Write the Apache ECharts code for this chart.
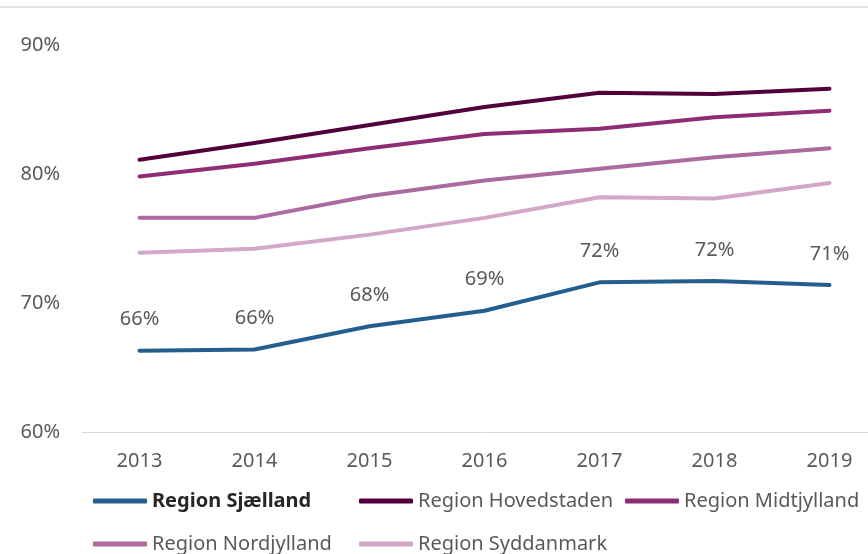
<!DOCTYPE html>
<html>
<head>
<meta charset="utf-8">
<script src="https://cdn.jsdelivr.net/npm/echarts@6/dist/echarts.min.js"></script>
<style>
  html, body { margin: 0; padding: 0; background: #fff; overflow: hidden; }
  #chart { width: 887px; height: 554px; }
</style>
</head>
<body>
<div id="chart"></div>
<script>
const years = ["2013", "2014", "2015", "2016", "2017", "2018", "2019"];
const yTicks = [60, 70, 80, 90];

const sjaelland = [66.3, 66.4, 68.2, 69.4, 71.6, 71.7, 71.4];
const hovedstaden = [81.1, 82.4, 83.8, 85.2, 86.3, 86.2, 86.6];
const midtjylland = [79.8, 80.8, 82.0, 83.1, 83.5, 84.4, 84.9];
const nordjylland = [76.6, 76.6, 78.3, 79.5, 80.4, 81.3, 82.0];
const syddanmark = [73.9, 74.2, 75.3, 76.6, 78.2, 78.1, 79.3];

const FONT = "Noto Sans";
const GREY = "#595959";

function lineSeries(name, data, color, z) {
  return {
    name: name,
    type: "line",
    data: data,
    symbol: "circle",
    symbolSize: 0,
    showSymbol: true,
    z: z,
    lineStyle: { color: color, width: 4, cap: "round", join: "round" },
    itemStyle: { color: color }
  };
}

const chart = echarts.init(document.getElementById("chart"));

// only Sjælland gets value labels
const sjSeries = lineSeries("Region Sjælland", sjaelland, "#245e8f", 5);
sjSeries.label = {
  show: true,
  position: "top",
  distance: 21,
  fontFamily: FONT,
  fontSize: 20,
  color: GREY,
  formatter: (p) => Math.round(p.value) + "%"
};

chart.setOption({
  animation: false,
  textStyle: { fontFamily: FONT },
  grid: { left: 82, right: 0, top: 45, bottom: 122 },
  xAxis: {
    type: "category",
    data: years,
    boundaryGap: true,
    axisLine: { lineStyle: { color: "#d9d9d9", width: 1 } },
    axisTick: { show: false },
    axisLabel: { fontFamily: FONT, fontSize: 20, color: GREY, margin: 19 }
  },
  yAxis: {
    type: "value",
    min: yTicks[0],
    max: yTicks[yTicks.length - 1],
    interval: 10,
    splitLine: { show: false },
    axisLine: { show: false },
    axisTick: { show: false },
    axisLabel: { fontFamily: FONT, fontSize: 20, color: GREY, margin: 22, formatter: "{value}%" }
  },
  legend: {
    left: 93,
    top: 483,
    width: 800,
    padding: 0,
    icon: "roundRect",
    itemWidth: 54,
    itemHeight: 5,
    itemGap: 7,
    data: ["Region Sjælland", "Region Hovedstaden", "Region Midtjylland", "Region Nordjylland", "Region Syddanmark"],
    formatter: (name) => name === "Region Sjælland" ? "{b|" + name + "}" : name,
    textStyle: {
      fontFamily: FONT,
      fontSize: 20,
      color: GREY,
      width: 200,
      lineHeight: 36,
      rich: {
        b: { fontFamily: FONT, fontSize: 20, fontWeight: "bold", color: "#262626", lineHeight: 36 }
      }
    }
  },
  graphic: [
    {
      type: "line",
      shape: { x1: 0, y1: 7, x2: 868, y2: 7 },
      style: { stroke: "#c8c8c8", lineWidth: 1 }
    }
  ],
  series: [
    sjSeries,
    lineSeries("Region Hovedstaden", hovedstaden, "#51003b", 4),
    lineSeries("Region Midtjylland", midtjylland, "#8f2d74", 3),
    lineSeries("Region Nordjylland", nordjylland, "#ab6aa0", 2),
    lineSeries("Region Syddanmark", syddanmark, "#d3a7c8", 1)
  ]
});
</script>
</body>
</html>
